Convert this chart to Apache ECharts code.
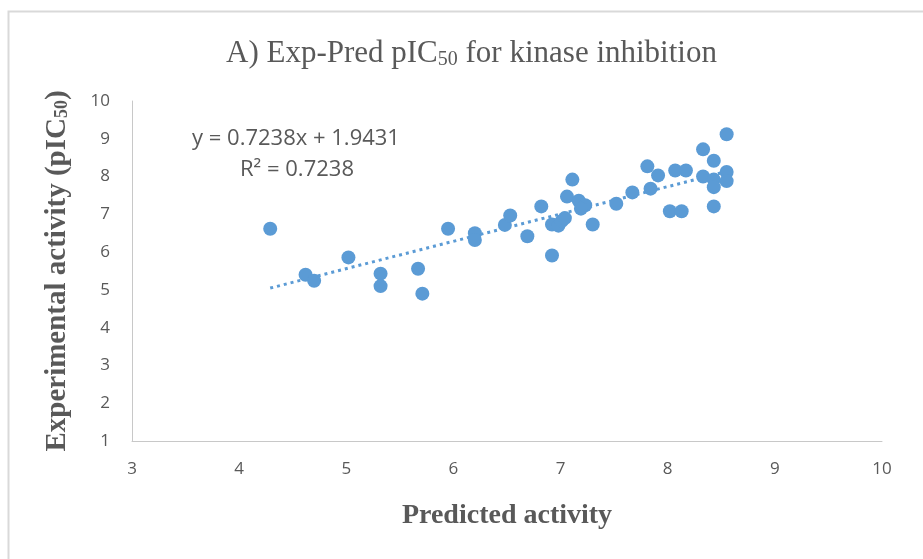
<!DOCTYPE html>
<html>
<head>
<meta charset="utf-8">
<script src="https://cdn.jsdelivr.net/npm/echarts@6/dist/echarts.min.js"></script>
<style>
  html, body { margin: 0; padding: 0; background: #fff; }
  #chart { width: 923px; height: 559px; }
</style>
</head>
<body>
<div id="chart"></div>
<script>
// predicted vs experimental pIC50
var predicted = [4.29, 4.62, 4.70, 5.02, 5.32, 5.32, 5.67, 5.71, 5.95, 6.20, 6.20, 6.48, 6.53, 6.69, 6.82,
  6.92, 6.92, 6.98, 7.01, 7.04, 7.06, 7.11, 7.17, 7.23, 7.19, 7.30, 7.52, 7.67, 7.81, 7.84, 7.91,
  8.02, 8.07, 8.13, 8.17, 8.33, 8.33, 8.43, 8.43, 8.43, 8.43, 8.55, 8.55, 8.55];
var experimental = [6.62, 5.40, 5.24, 5.86, 5.43, 5.10, 5.56, 4.90, 6.62, 6.50, 6.32, 6.72, 6.97, 6.42, 7.21,
  5.91, 6.73, 6.70, 6.82, 6.90, 7.47, 7.92, 7.36, 7.24, 7.15, 6.73, 7.28, 7.58, 8.27, 7.68, 8.03,
  7.08, 8.16, 7.08, 8.16, 8.72, 8.00, 8.42, 7.92, 7.72, 7.21, 9.12, 8.12, 7.88];
// linear trendline end points
var trendX = [4.29, 8.55];
var trendY = [5.048, 8.132];
var xTicks = [3, 4, 5, 6, 7, 8, 9, 10];
var yTicks = [1, 2, 3, 4, 5, 6, 7, 8, 9, 10];

var points = predicted.map(function (x, i) { return [x, experimental[i]]; });
var trend = trendX.map(function (x, i) { return [x, trendY[i]]; });

var grey = '#595959';
var chart = echarts.init(document.getElementById('chart'));
chart.setOption({
  backgroundColor: '#fff',
  animation: false,
  title: {
    text: 'A) Exp-Pred pIC{sub|50} for kinase inhibition',
    left: 221,
    top: 33,
    textStyle: {
      fontFamily: 'Liberation Serif',
      fontSize: 31,
      fontWeight: 'normal',
      color: grey,
      rich: {
        sub: { fontFamily: 'Liberation Serif', fontSize: 20, color: grey, verticalAlign: 'bottom', padding: [12, 0, 0, 0] }
      }
    }
  },
  graphic: [
    {
      type: 'rect',
      silent: true,
      shape: { x: 8.5, y: 11.5, width: 940, height: 580 },
      style: { fill: 'none', stroke: '#d9d9d9', lineWidth: 2 }
    },
    {
      type: 'text',
      silent: true,
      style: { x: 296, y: 139, text: 'y = 0.7238x + 1.9431', font: '22px "Open Sans"', fill: grey, textAlign: 'center', textVerticalAlign: 'middle' }
    },
    {
      type: 'text',
      silent: true,
      style: { x: 297, y: 170, text: 'R² = 0.7238', font: '22px "Open Sans"', fill: grey, textAlign: 'center', textVerticalAlign: 'middle' }
    }
  ],
  grid: { left: 132, right: 41, top: 101, bottom: 118 },
  xAxis: {
    type: 'value',
    min: xTicks[0],
    max: xTicks[xTicks.length - 1],
    interval: 1,
    name: 'Predicted activity',
    nameLocation: 'middle',
    nameGap: 61,
    nameTextStyle: { fontFamily: 'Liberation Serif', fontSize: 28, fontWeight: 'bold', color: grey },
    axisLine: { show: true, lineStyle: { color: '#c8c8c8', width: 1 } },
    axisTick: { show: false },
    splitLine: { show: false },
    axisLabel: { color: grey, fontFamily: 'Open Sans', fontSize: 17, margin: 20 }
  },
  yAxis: {
    type: 'value',
    min: yTicks[0],
    max: yTicks[yTicks.length - 1],
    interval: 1,
    name: 'Experimental activity (pIC{sub|50})',
    nameLocation: 'middle',
    nameGap: 60,
    nameTextStyle: {
      fontFamily: 'Liberation Serif', fontSize: 29, fontWeight: 'bold', color: grey,
      rich: { sub: { fontFamily: 'Liberation Serif', fontSize: 18, fontWeight: 'bold', color: grey, padding: [10, 0, 0, 0] } }
    },
    axisLine: { show: true, lineStyle: { color: '#c8c8c8', width: 1 } },
    axisTick: { show: false },
    splitLine: { show: false },
    axisLabel: { color: grey, fontFamily: 'Open Sans', fontSize: 17, margin: 22 }
  },
  series: [
    {
      type: 'line',
      data: trend,
      symbol: 'none',
      silent: true,
      lineStyle: { color: '#5b9bd5', width: 3, type: [3, 4], cap: 'butt' },
      z: 1
    },
    {
      type: 'scatter',
      data: points,
      symbol: 'circle',
      symbolSize: 14,
      itemStyle: { color: '#5b9bd5', opacity: 1 },
      z: 2
    }
  ]
});
</script>
</body>
</html>
